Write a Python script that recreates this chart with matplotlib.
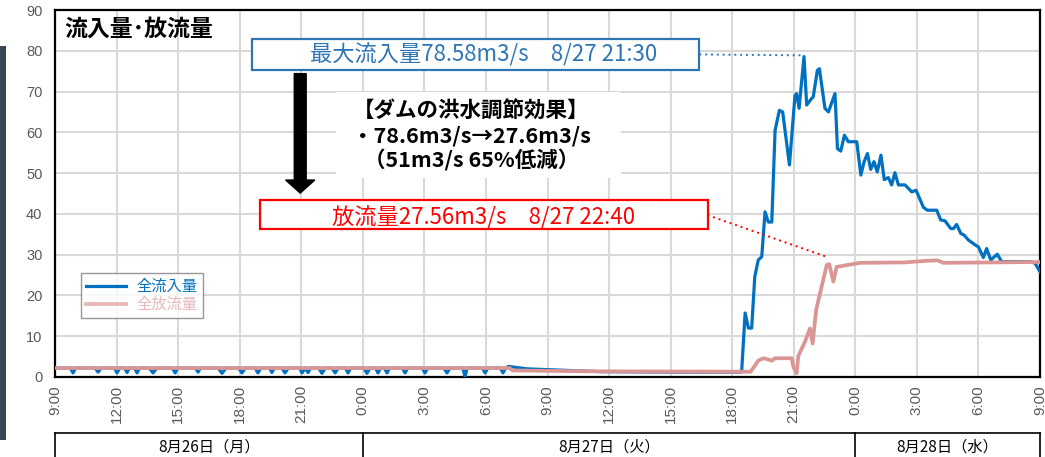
import matplotlib
matplotlib.use('Agg')
import matplotlib.pyplot as plt
from matplotlib.patches import Rectangle, FancyArrow
from matplotlib.lines import Line2D
from matplotlib.transforms import blended_transform_factory

plt.rcParams['font.family'] = ['Noto Sans CJK JP', 'DejaVu Sans']

# time axis: hours since 8/26 9:00
inflow_t = [0.0, 0.75, 0.88, 1.0, 1.95, 2.1, 2.25, 2.9, 3.02, 3.15, 3.4, 3.51, 3.62,
            3.88, 4.0, 4.12, 4.6, 4.78, 4.96, 5.72, 5.85, 5.98, 6.85, 6.97, 7.09,
            7.95, 8.14, 8.33, 8.95, 9.11, 9.27, 9.75, 9.89, 10.03, 10.45, 10.57, 10.69,
            11.05, 11.21, 11.37, 11.92, 12.04, 12.18, 12.33, 12.45, 12.85, 13.01, 13.17,
            13.5, 13.65, 13.8, 14.15, 14.28, 14.41, 15.05, 15.2, 15.35, 15.62, 15.74, 15.86,
            16.05, 16.18, 16.31, 16.93, 17.06, 17.19, 17.9, 18.03, 18.16, 18.95, 19.1, 19.25,
            19.88, 19.98, 20.08, 20.83, 20.96, 21.09, 21.7, 21.83, 21.96, 22.1, 23.0, 25.0,
            26.6, 30.0, 33.46,
            33.63, 33.79, 33.95, 34.1, 34.27, 34.44, 34.6, 34.76, 34.93, 35.09, 35.3, 35.46,
            35.79, 36.06, 36.14, 36.26, 36.5, 36.63, 36.87, 36.95, 37.15, 37.25, 37.52, 37.69,
            38.01, 38.13, 38.29, 38.47, 38.66, 39.07, 39.27, 39.43, 39.59, 39.75, 39.91, 40.07,
            40.25, 40.41, 40.61, 40.77, 40.93, 41.1, 41.42, 41.75, 41.96, 42.32, 42.51, 42.97,
            43.16, 43.37, 43.65, 43.78, 43.94, 44.14, 44.3, 44.51, 44.84, 45.0, 45.24, 45.4,
            45.6, 45.92, 46.13, 47.51, 47.76, 48.0]
inflow_v = [2.2, 2.2, 1.0, 2.2, 2.2, 1.2, 2.2, 2.2, 1.0, 2.2, 2.2, 1.1, 2.2,
            2.2, 1.0, 2.2, 2.2, 1.0, 2.2, 2.2, 1.0, 2.2, 2.2, 1.2, 2.2,
            2.2, 0.9, 2.2, 2.2, 1.0, 2.2, 2.2, 1.0, 2.2, 2.2, 1.1, 2.2,
            2.2, 1.0, 2.2, 2.2, 1.0, 2.2, 1.1, 2.2, 2.2, 0.9, 2.2,
            2.2, 1.0, 2.2, 2.2, 1.0, 2.2, 2.2, 0.9, 2.2, 2.2, 1.0, 2.2,
            2.2, 1.0, 2.2, 2.2, 1.0, 2.2, 2.2, 1.0, 2.2, 2.2, 1.0, 2.2,
            2.2, 0.0, 2.2, 2.2, 1.0, 2.2, 2.2, 1.0, 2.2, 2.6, 2.0, 1.6,
            1.3, 1.2, 1.2,
            15.7, 12.0, 12.0, 24.6, 28.7, 29.5, 40.5, 38.0, 38.0, 60.5, 65.4, 65.0,
            52.0, 69.0, 69.5, 65.9, 78.58, 66.7, 68.3, 68.7, 75.2, 75.6, 65.9, 65.0,
            69.5, 56.0, 55.4, 59.3, 57.7, 57.7, 49.5, 52.8, 54.8, 50.9, 52.8, 50.3,
            54.4, 48.4, 48.9, 47.1, 50.1, 47.1, 47.1, 45.4, 45.8, 41.6, 40.9, 40.9,
            38.5, 38.3, 36.4, 36.4, 37.4, 35.2, 34.8, 33.6, 32.4, 31.9, 29.3, 31.5,
            28.7, 30.1, 28.3, 28.3, 27.9, 25.8]

outflow_t = [0.0, 22.15, 22.3, 26.0, 33.9, 34.27, 34.52, 34.76, 34.93, 35.09, 35.9, 35.98,
             36.14, 36.22, 36.55, 36.79, 36.92, 37.09, 37.28, 37.61, 37.67, 37.73, 37.93,
             38.09, 39.23, 41.4, 42.5, 43.0, 43.3, 48.0]
outflow_v = [2.2, 2.2, 1.6, 1.4, 1.3, 4.0, 4.6, 4.3, 4.0, 4.6, 4.6, 2.5,
             0.9, 5.1, 8.7, 11.9, 8.2, 16.4, 20.5, 27.5, 27.56, 27.7, 23.4,
             27.0, 28.0, 28.1, 28.5, 28.6, 28.0, 28.2]

tick_hours = list(range(0, 49, 3))
tick_labels = ['9:00', '12:00', '15:00', '18:00', '21:00', '0:00', '3:00', '6:00',
               '9:00', '12:00', '15:00', '18:00', '21:00', '0:00', '3:00', '6:00', '9:00']
days = ['8月26日（月）', '8月27日（火）', '8月28日（水）']
day_edges = [0, 15, 39, 48]

peak_t, peak_v = 36.5, 78.58
out_t, out_v = 37.67, 27.56

BLUE = '#0070C0'
PINK = '#DA9694'
W, H = 1045, 457

fig = plt.figure(figsize=(W / 100, H / 100), dpi=100)
# dark strip at left edge of the screenshot
fig.add_artist(Rectangle((0, 1 - 440 / H), 6 / W, (440 - 46) / H,
                         transform=fig.transFigure, color='#37474f', lw=0))
ax = fig.add_axes([55 / W, 1 - 377 / H, 985 / W, 367 / H])

ax.plot(inflow_t, inflow_v, color=BLUE, lw=2.3, label='全流入量', zorder=3)
ax.plot(outflow_t, outflow_v, color=PINK, lw=2.7, label='全放流量', zorder=4)

ax.set_xlim(0, 48)
ax.set_ylim(0, 90)
ax.set_xticks(tick_hours)
ax.set_xticklabels(tick_labels, rotation=90, family=['Liberation Sans'],
                   fontsize=11, color='#595959', va='top')
ax.set_yticks(range(0, 91, 10))
ax.set_yticklabels([str(v) for v in range(0, 91, 10)], family=['Liberation Sans'],
                   fontsize=10.5, color='#595959')
ax.tick_params(axis='both', length=0)
ax.tick_params(axis='x', pad=6)
ax.tick_params(axis='y', pad=9)
ax.grid(True, color='#d9d9d9', lw=1.5, zorder=0)
ax.set_axisbelow(True)
for s in ax.spines.values():
    s.set_color('black')
    s.set_linewidth(1.6)

ax.text(0.45, 85.2, '流入量･放流量', fontsize=16.5, fontweight='bold', va='center', ha='left')

# max inflow box
ax.add_patch(Rectangle((9.6, 75.4), 21.8, 7.4, fill=True, fc='white', ec='#2E75B6', lw=1.6, zorder=5))
ax.text(20.9, 79.1, '最大流入量78.58m3/s　8/27 21:30', color='#2E75B6', fontsize=16,
        ha='center', va='center', zorder=6)
ax.plot([31.4, peak_t], [79.1, peak_v + 0.3], color='#2E75B6', lw=1.4, ls=(0, (1, 2)), zorder=5)

# outflow box
ax.add_patch(Rectangle((10.0, 36.2), 21.8, 7.2, fill=True, fc='white', ec='#FF0000', lw=1.6, zorder=5))
ax.text(20.9, 39.1, '放流量27.56m3/s　8/27 22:40', color='#FF0000', fontsize=16,
        ha='center', va='center', zorder=6)
ax.plot([31.8, out_t], [39.7, out_v + 1.8], color='#FF0000', lw=1.4, ls=(0, (1, 2)), zorder=5)

# arrow
ax.add_patch(FancyArrow(11.95, 74.4, 0, -29.3, width=0.58, head_width=1.42, head_length=3.2,
                        length_includes_head=True, color='black', zorder=5))

# effect text
ax.add_patch(Rectangle((13.7, 48.8), 13.9, 21.0, fc='white', ec='none', zorder=5))
ax.text(20.3, 59.0, '【ダムの洪水調節効果】\n・78.6m3/s→27.6m3/s\n（51m3/s 65%低減）',
        fontsize=15.5, fontweight='bold', ha='center', va='center', linespacing=1.2, zorder=6)

leg = ax.legend(loc='upper left', bbox_to_anchor=(0.026, 0.284), borderaxespad=0,
                fontsize=11, frameon=True, fancybox=False, handlelength=2.6,
                handletextpad=0.7, borderpad=0.35, labelspacing=0.05)
leg.get_frame().set_edgecolor('#7f7f7f')
leg.get_frame().set_linewidth(1.0)
leg.get_texts()[0].set_color(BLUE)
leg.get_texts()[1].set_color('#E6B8B7')
leg.get_lines()[1].set_color('#E6B8B7')
leg.set_zorder(7)

# date row under the axis
tr = blended_transform_factory(ax.transData, fig.transFigure)
y_top = 1 - 433 / H
fig.add_artist(Line2D([0, 48], [y_top, y_top], transform=tr, color='black', lw=1.2))
for e in day_edges:
    fig.add_artist(Line2D([e, e], [y_top, 0], transform=tr, color='black', lw=1.2))
for i, d in enumerate(days):
    xc = (day_edges[i] + day_edges[i + 1]) / 2
    fig.text(xc, 1 - 447 / H, d, transform=tr, ha='center', va='center', fontsize=11)

fig.savefig('out.png', dpi=100)
